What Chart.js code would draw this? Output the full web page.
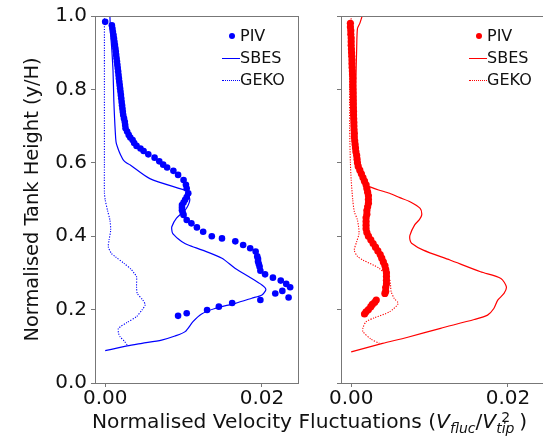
<!DOCTYPE html>
<html>
<head>
<meta charset="utf-8">
<script src="https://cdn.jsdelivr.net/npm/chart.js@4/dist/chart.umd.min.js"></script>
<style>
  html, body { margin: 0; padding: 0; background: #fff; }
  body { width: 543px; height: 439px; overflow: hidden; position: relative;
         font-family: "DejaVu Sans", sans-serif; color: #111; }
  .panel { position: absolute; top: 0; }
  .legend { position: absolute; font-size: 16px; line-height: 22px; }
  .legend .row { display: flex; align-items: center; height: 22px; }
  .legend .h { width: 18px; height: 22px; position: relative; }
  .legend .dot::after { content: ""; position: absolute; left: 7px; top: 8px; width: 6px; height: 6px; border-radius: 50%; background: currentColor; }
  .legend .solid::after { content: ""; position: absolute; left: 0; right: 0; top: 10.5px; border-top: 1.4px solid currentColor; }
  .legend .dotted::after { content: ""; position: absolute; left: 0; right: 0; top: 10.5px; border-top: 1.2px dotted currentColor; }
  .legend .t { color: #111; }
  #xtitle { position: absolute; left: 92px; top: 408px; font-size: 20.2px; line-height: 24px; white-space: nowrap; }
  #xtitle i { font-style: italic; }
  .sub { font-style: italic; font-size: 14px; position: relative; top: 5px; }
  .stack { display: inline-block; position: relative; width: 23px; height: 20px; vertical-align: baseline; }
  .stack .sp { position: absolute; left: 5px; top: 2px; font-size: 14px; line-height: 14px; font-style: normal; }
  .stack .sb { position: absolute; left: 0; top: 13px; font-size: 14px; line-height: 14px; font-style: italic; }
</style>
</head>
<body>
<div class="panel" style="left:0"><canvas id="cLeft" width="305" height="439"></canvas></div>
<div class="panel" style="left:310px"><canvas id="cRight" width="240" height="439"></canvas></div>

<div class="legend" style="left:222px; top:25px; color:#0000ff">
  <div class="row"><span class="h dot"></span><span class="t">PIV</span></div>
  <div class="row"><span class="h solid"></span><span class="t">SBES</span></div>
  <div class="row"><span class="h dotted"></span><span class="t">GEKO</span></div>
</div>
<div class="legend" style="left:469px; top:25px; color:#ff0000">
  <div class="row"><span class="h dot"></span><span class="t">PIV</span></div>
  <div class="row"><span class="h solid"></span><span class="t">SBES</span></div>
  <div class="row"><span class="h dotted"></span><span class="t">GEKO</span></div>
</div>

<div id="xtitle">Normalised Velocity Fluctuations (<i>V</i><span class="sub">fluc</span>/<i>V</i><span class="stack"><span class="sp">2</span><span class="sb">tip</span></span>)</div>

<script>
// ---- Blue profile (left panel) ----
const bluePivY = [0.984, 0.975, 0.966, 0.957, 0.948, 0.939, 0.930, 0.921, 0.912, 0.903, 0.894, 0.885, 0.876, 0.867, 0.858, 0.849, 0.839, 0.830, 0.821, 0.812, 0.803, 0.794, 0.785, 0.776, 0.766, 0.757, 0.748, 0.739, 0.730, 0.721, 0.712, 0.703, 0.694, 0.685, 0.676, 0.669, 0.662, 0.654, 0.646, 0.639, 0.632, 0.623, 0.614, 0.604, 0.595, 0.587, 0.578, 0.567, 0.553, 0.540, 0.530, 0.517, 0.507, 0.499, 0.492, 0.485, 0.478, 0.471, 0.464, 0.458, 0.444, 0.435, 0.424, 0.412, 0.400, 0.394, 0.386, 0.376, 0.367, 0.358, 0.345, 0.338, 0.331, 0.324, 0.317, 0.306, 0.296, 0.287, 0.279, 0.270, 0.261, 0.251, 0.244, 0.233, 0.226, 0.218, 0.208, 0.199, 0.190, 0.183];
const bluePivX = [0.0000, 0.00085, 0.00092, 0.00098, 0.00106, 0.00112, 0.00118, 0.00124, 0.0013, 0.00135, 0.0014, 0.00145, 0.0015, 0.00155, 0.0016, 0.00165, 0.0017, 0.00175, 0.0018, 0.00185, 0.0019, 0.00195, 0.0020, 0.00205, 0.0021, 0.00215, 0.0022, 0.00225, 0.0023, 0.0024, 0.0025, 0.00255, 0.0026, 0.0028, 0.0030, 0.0032, 0.0035, 0.0037, 0.0040, 0.0045, 0.0049, 0.0055, 0.0063, 0.0069, 0.0074, 0.0079, 0.0087, 0.0093, 0.0100, 0.0103, 0.0104, 0.0106, 0.0104, 0.0102, 0.0100, 0.0098, 0.0098, 0.0098, 0.0099, 0.0100, 0.0104, 0.0110, 0.0117, 0.0125, 0.0136, 0.0149, 0.0166, 0.0176, 0.0185, 0.0192, 0.0194, 0.0195, 0.0195, 0.0196, 0.0197, 0.0198, 0.0204, 0.0214, 0.0224, 0.0231, 0.0236, 0.0226, 0.0217, 0.0234, 0.0198, 0.0162, 0.0145, 0.0130, 0.0104, 0.0093];

const blueSbesY = [1.000, 0.950, 0.907, 0.850, 0.771, 0.720, 0.680, 0.655, 0.635, 0.620, 0.608, 0.600, 0.594, 0.557, 0.522, 0.517, 0.499, 0.485, 0.471, 0.449, 0.426, 0.417, 0.408, 0.401, 0.393, 0.385, 0.376, 0.362, 0.340, 0.312, 0.290, 0.267, 0.255, 0.240, 0.231, 0.217, 0.203, 0.188, 0.167, 0.140, 0.128, 0.117, 0.108, 0.101, 0.088];
const blueSbesX = [0.0006, 0.0007, 0.00085, 0.0010, 0.0011, 0.0012, 0.0013, 0.0014, 0.0017, 0.0020, 0.0023, 0.0027, 0.0032, 0.0057, 0.0106, 0.0106, 0.0108, 0.0106, 0.0102, 0.0091, 0.0085, 0.0085, 0.0086, 0.0089, 0.0093, 0.0098, 0.0106, 0.0124, 0.0149, 0.0166, 0.0183, 0.0200, 0.0205, 0.0200, 0.0187, 0.0166, 0.0140, 0.0123, 0.0112, 0.0102, 0.0089, 0.0072, 0.0047, 0.0028, 0.0000];

const blueGekoY = [1.000, 0.900, 0.800, 0.700, 0.600, 0.520, 0.499, 0.470, 0.444, 0.417, 0.390, 0.371, 0.353, 0.344, 0.326, 0.310, 0.299, 0.290, 0.262, 0.244, 0.226, 0.213, 0.199, 0.181, 0.165, 0.149, 0.136, 0.126, 0.115, 0.104];
const blueGekoX = [-0.0001, -0.0001, -0.0001, -0.0001, -0.0001, -0.0001, 0.0000, 0.0003, 0.0006, 0.0007, 0.0005, 0.0004, 0.0008, 0.0013, 0.0024, 0.0033, 0.0037, 0.0040, 0.0040, 0.0041, 0.0048, 0.0051, 0.0047, 0.0040, 0.0028, 0.0017, 0.0017, 0.0019, 0.0024, 0.0028];

// ---- Red profile (right panel) ----
const redPivY = [0.980, 0.970, 0.960, 0.950, 0.940, 0.930, 0.920, 0.910, 0.900, 0.890, 0.880, 0.870, 0.860, 0.850, 0.840, 0.830, 0.820, 0.810, 0.800, 0.790, 0.780, 0.770, 0.760, 0.750, 0.740, 0.730, 0.720, 0.710, 0.700, 0.690, 0.680, 0.670, 0.660, 0.650, 0.640, 0.630, 0.620, 0.610, 0.600, 0.590, 0.580, 0.570, 0.560, 0.550, 0.540, 0.530, 0.520, 0.510, 0.500, 0.490, 0.480, 0.470, 0.460, 0.450, 0.440, 0.430, 0.420, 0.410, 0.400, 0.390, 0.380, 0.370, 0.360, 0.350, 0.340, 0.330, 0.320, 0.310, 0.300, 0.290, 0.280, 0.270, 0.260, 0.250, 0.244, 0.226, 0.220, 0.214, 0.208, 0.200, 0.194, 0.188];
const redPivX = [-0.0001, -0.0001, -0.00005, -0.00005, 0.0000, 0.0000, 0.0000, 0.00003, 0.00005, 0.00007, 0.0001, 0.0001, 0.00012, 0.00015, 0.00017, 0.0002, 0.0002, 0.0002, 0.00022, 0.00024, 0.00025, 0.00026, 0.00027, 0.00028, 0.0003, 0.0003, 0.00032, 0.00034, 0.00035, 0.00037, 0.0004, 0.0004, 0.00045, 0.0005, 0.00055, 0.0006, 0.0007, 0.00075, 0.0008, 0.0009, 0.0011, 0.0013, 0.0015, 0.0017, 0.0019, 0.0020, 0.0021, 0.0022, 0.0022, 0.0022, 0.0021, 0.0020, 0.0020, 0.0019, 0.0019, 0.0019, 0.0019, 0.0020, 0.0022, 0.0025, 0.0028, 0.0031, 0.0034, 0.0037, 0.0039, 0.0041, 0.0043, 0.0044, 0.0045, 0.0045, 0.0045, 0.0045, 0.0044, 0.0044, 0.0043, 0.0032, 0.0030, 0.0027, 0.0025, 0.0022, 0.0019, 0.0017];

const redSbesY = [1.000, 0.980, 0.966, 0.912, 0.820, 0.730, 0.640, 0.600, 0.576, 0.555, 0.540, 0.535, 0.526, 0.517, 0.505, 0.494, 0.476, 0.458, 0.445, 0.431, 0.403, 0.390, 0.381, 0.362, 0.335, 0.303, 0.285, 0.262, 0.244, 0.226, 0.203, 0.185, 0.173, 0.149, 0.124, 0.108, 0.085];
const redSbesX = [0.0014, 0.0011, 0.0008, 0.0007, 0.0006, 0.0006, 0.0007, 0.0008, 0.0010, 0.0014, 0.0020, 0.0023, 0.0035, 0.0049, 0.0062, 0.0075, 0.0088, 0.0090, 0.0087, 0.0081, 0.0075, 0.0075, 0.0077, 0.0092, 0.0126, 0.0165, 0.0191, 0.0198, 0.0195, 0.0187, 0.0182, 0.0174, 0.0157, 0.0114, 0.0071, 0.0040, 0.0000];

const redGekoY = [1.000, 0.900, 0.800, 0.700, 0.600, 0.553, 0.499, 0.467, 0.444, 0.408, 0.385, 0.362, 0.345, 0.335, 0.312, 0.281, 0.249, 0.230, 0.217, 0.194, 0.178, 0.167, 0.150, 0.140, 0.120, 0.108];
const redGekoX = [0.0000, -0.0001, -0.0002, -0.0002, -0.0001, 0.0000, 0.0002, 0.0004, 0.0008, 0.0010, 0.0007, 0.0004, 0.0008, 0.0015, 0.0036, 0.0049, 0.0051, 0.0055, 0.0060, 0.0049, 0.0030, 0.0019, 0.0015, 0.0015, 0.0025, 0.0036];

// ---- Axes ----
const yTicks = [0.0, 0.2, 0.4, 0.6, 0.8, 1.0];
const xTicks = [0.00, 0.02];
const xMin = -0.0013, xMax = 0.0246;

const pts = (xs, ys) => xs.map((x, i) => ({ x, y: ys[i] }));

// Box around the plotting area
const framePlugin = {
  id: 'frame',
  afterDraw(chart) {
    const { ctx, chartArea: a } = chart;
    ctx.save();
    ctx.strokeStyle = '#777';
    ctx.lineWidth = 1;
    ctx.strokeRect(Math.round(a.left) + 0.5, Math.round(a.top) + 0.5,
                   Math.round(a.right - a.left), Math.round(a.bottom - a.top));
    ctx.restore();
  }
};

function makeChart(id, color, piv, sbes, geko, opts) {
  const tickFont = { family: 'DejaVu Sans', size: 20 };
  return new Chart(document.getElementById(id), {
    type: 'scatter',
    data: {
      datasets: [
        { label: 'PIV', data: piv, showLine: false, pointRadius: opts.pivRadius, pointHoverRadius: opts.pivRadius,
          pointBackgroundColor: color, pointBorderWidth: 0, order: 1 },
        { label: 'SBES', data: sbes, showLine: true, pointRadius: 0, borderColor: color,
          borderWidth: 1.2, tension: 0.25, order: 2 },
        { label: 'GEKO', data: geko, showLine: true, pointRadius: 0, borderColor: color,
          borderWidth: 1.1, borderDash: [1.2, 1.4], tension: 0.25, order: 3 }
      ]
    },
    options: {
      responsive: false,
      animation: false,
      events: [],
      layout: { padding: { top: 16, right: opts.padRight, left: 0, bottom: 0 } },
      plugins: { legend: { display: false }, tooltip: { enabled: false } },
      scales: {
        x: {
          type: 'linear', min: xMin, max: xMax,
          afterBuildTicks: s => { s.ticks = xTicks.map(v => ({ value: v })); },
          afterFit: s => { s.height = 56; },
          ticks: { font: tickFont, color: '#111', padding: 0, maxRotation: 0,
                   callback: v => v.toFixed(2) },
          grid: { drawOnChartArea: false, drawTicks: true, tickLength: 4, color: '#777' },
          border: { display: false }
        },
        y: {
          type: 'linear', min: 0, max: 1,
          afterBuildTicks: s => { s.ticks = yTicks.map(v => ({ value: v })); },
          afterFit: s => { s.width = opts.yWidth; },
          ticks: { display: true, font: tickFont, color: '#111', padding: 4,
                   callback: v => opts.yLabels ? v.toFixed(1) : '' },
          grid: { drawOnChartArea: false, drawTicks: true, tickLength: 4, color: '#777' },
          border: { display: false },
          title: opts.yTitle ? { display: true, text: 'Normalised Tank Height (y/H)', color: '#111',
                   font: { family: 'DejaVu Sans', size: 19.4 }, padding: { top: 21, bottom: 0 } }
                 : { display: false }
        }
      }
    },
    plugins: [framePlugin]
  });
}

makeChart('cLeft', '#0000ff',
  pts(bluePivX, bluePivY), pts(blueSbesX, blueSbesY), pts(blueGekoX, blueGekoY),
  { padRight: 7, yWidth: 95, yLabels: true, yTitle: true, pivRadius: 3.3 });

makeChart('cRight', '#ff0000',
  pts(redPivX, redPivY), pts(redSbesX, redSbesY), pts(redGekoX, redGekoY),
  { padRight: 6, yWidth: 31, yLabels: false, yTitle: false, pivRadius: 3.6 });
</script>
</body>
</html>
